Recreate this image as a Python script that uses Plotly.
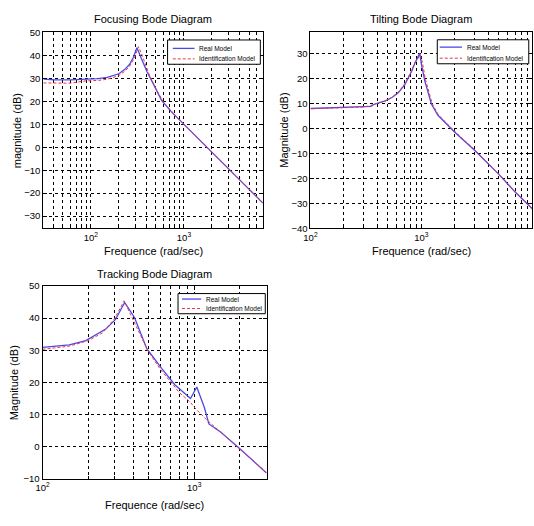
import numpy as np
import plotly.graph_objects as go

# ---------------- data ----------------
# Focusing
foc_real_x = [31, 40, 60, 88, 120, 150, 200, 230, 260, 285, 313, 350, 400, 450, 575, 735, 1000, 2000, 3000, 5000, 7050]
foc_real_y = [29.7, 29.4, 29.3, 29.6, 29.9, 30.4, 32.0, 33.8, 36.0, 39.0, 43.3, 38.5, 33.0, 29.0, 20.4, 15.4, 10.0, -2.2, -9.3, -18.2, -24.3]
foc_id_x = [31, 40, 60, 88, 120, 150, 200, 230, 260, 295, 325, 360, 420, 500, 600, 800, 1000, 2000, 3000, 5000, 7050]
foc_id_y = [28.0, 27.9, 27.9, 28.9, 29.1, 29.6, 31.2, 33.0, 35.2, 39.0, 43.8, 39.5, 32.0, 25.5, 19.8, 14.0, 10.0, -2.2, -9.3, -18.2, -24.3]

# Tilting
tilt_real_x = [100, 200, 300, 350, 380, 473, 547, 622, 711, 817, 874, 965, 1003, 1074, 1231, 1410, 2000, 3000, 5000, 7000, 10000]
tilt_real_y = [8.0, 8.4, 8.7, 8.9, 9.8, 11.1, 12.5, 14.4, 17.7, 22.9, 26.2, 30.1, 25.5, 19.0, 9.8, 5.3, -1.5, -8.6, -18.4, -25.5, -32.2]
tilt_id_x = [100, 200, 300, 350, 380, 473, 547, 622, 711, 817, 874, 980, 1020, 1090, 1250, 1420, 2000, 3000, 5000, 7000, 10000]
tilt_id_y = [7.9, 8.3, 8.6, 9.2, 9.8, 11.0, 12.6, 14.6, 18.0, 23.2, 26.4, 29.5, 26.5, 19.5, 10.0, 5.5, -1.2, -8.4, -18.2, -25.4, -32.2]

# Tracking
trk_real_x = [100, 150, 193, 261, 303, 348, 404, 487, 610, 745, 946, 1040, 1167, 1250, 1500, 2000, 3000]
trk_real_y = [30.9, 31.7, 33.0, 36.6, 39.6, 44.9, 40.2, 30.5, 24.4, 19.3, 15.0, 18.6, 12.2, 7.1, 4.5, -0.6, -8.2]
trk_id_x = [100, 150, 200, 250, 300, 345, 400, 500, 600, 700, 800, 946, 1005, 1200, 1500, 2000, 3000]
trk_id_y = [30.3, 31.3, 33.0, 35.5, 40.0, 45.4, 39.0, 29.5, 24.0, 20.0, 16.8, 13.8, 12.2, 8.5, 4.5, -0.5, -8.0]

foc_yticks = [-30, -20, -10, 0, 10, 20, 30, 40, 50]
tilt_yticks = [-40, -30, -20, -10, 0, 10, 20, 30]
trk_yticks = [-10, 0, 10, 20, 30, 40, 50]

series_names = ["Real Model", "Identification Model"]
titles = ["Focusing Bode Diagram", "Tilting Bode Diagram", "Tracking Bode Diagram"]
ylabels = ["magnitude (dB)", "Magnitude (dB)", "Magnitude (dB)"]
xlabel = "Frequence (rad/sec)"

W, H = 534, 526
FONT = "Liberation Sans, Arial, sans-serif"
BLUE = "#4a4ae6"
RED = "#ee3348"


def px_x(p):
    return p / W


def px_y(p):
    return 1 - p / H


def log_ticks(lo, hi):
    major, major_txt, minor = [], [], []
    for d in range(1, 5):
        for m in range(1, 10):
            v = m * 10 ** d
            if lo * 0.999 <= v <= hi * 1.001:
                if m == 1:
                    major.append(v)
                    major_txt.append(f"10<sup>{d}</sup>")
                else:
                    minor.append(v)
    return major, major_txt, minor


fig = go.Figure()

panels = [
    dict(rx=foc_real_x, ry=foc_real_y, ix=foc_id_x, iy=foc_id_y, xr=(30.8, 7050), yr=(-35.3, 50),
         yticks=foc_yticks, dom_x=(36.7, 259.3), dom_y=(27, 227),
         title_y=13.5, xlab_y=250, ylab_x=10,
         leg=dict(box=(162.7, 34.7, 256.7, 59.5), l1=(168, 190, 43.3), l2=(168, 190, 54), tx=192.3)),
    dict(rx=tilt_real_x, ry=tilt_real_y, ix=tilt_id_x, iy=tilt_id_y, xr=(100, 10000), yr=(-40, 38.5),
         yticks=tilt_yticks, dom_x=(307.5, 532.3), dom_y=(27, 227),
         title_y=13.5, xlab_y=250, ylab_x=281,
         leg=dict(box=(436, 34.5, 528.7, 59), l1=(438.5, 461, 42), l2=(438.5, 461, 53.3), tx=464.3)),
    dict(rx=trk_real_x, ry=trk_real_y, ix=trk_id_x, iy=trk_id_y, xr=(100, 3000), yr=(-10, 50),
         yticks=trk_yticks, dom_x=(36, 263), dom_y=(286, 483),
         title_y=274, xlab_y=510, ylab_x=8,
         leg=dict(box=(173.3, 293.7, 261.7, 314.3), l1=(177.3, 196.7, 299.3), l2=(177.3, 196.7, 309), tx=199.3)),
]

annotations = []
shapes = []
for i, p in enumerate(panels):
    n = i + 1
    xa = "x" if n == 1 else f"x{n}"
    ya = "y" if n == 1 else f"y{n}"
    fig.add_trace(go.Scatter(x=p["rx"], y=p["ry"], mode="lines", name=series_names[0],
                             line=dict(color=BLUE, width=1.3), xaxis=xa, yaxis=ya, showlegend=False))
    fig.add_trace(go.Scatter(x=p["ix"], y=p["iy"], mode="lines", name=series_names[1],
                             line=dict(color=RED, width=1, dash="3px,2px"), xaxis=xa, yaxis=ya, showlegend=False))
    major, major_txt, minor = log_ticks(*p["xr"])
    grid = dict(showgrid=True, gridcolor="black", gridwidth=0.6, griddash="3px,3px")
    axis_common = dict(showline=True, linecolor="black", linewidth=1, mirror="allticks",
                       ticks="inside", ticklen=4, tickcolor="black", zeroline=False,
                       tickfont=dict(family=FONT, size=9.5, color="black"), **grid)
    xkey = "xaxis" if n == 1 else f"xaxis{n}"
    ykey = "yaxis" if n == 1 else f"yaxis{n}"
    fig.update_layout({
        xkey: dict(axis_common, type="log", range=[np.log10(p["xr"][0]), np.log10(p["xr"][1])],
                   tickmode="array", tickvals=major, ticktext=major_txt, anchor=ya,
                   minor=dict(tickmode="array", tickvals=minor, ticks="inside", ticklen=3,
                              tickcolor="black", **grid),
                   domain=[px_x(p["dom_x"][0]), px_x(p["dom_x"][1])]),
        ykey: dict(axis_common, range=list(p["yr"]), tickmode="array", tickvals=p["yticks"],
                   anchor=xa, domain=[px_y(p["dom_y"][1]), px_y(p["dom_y"][0])]),
    })
    cx = (p["dom_x"][0] + p["dom_x"][1]) / 2
    annotations.append(dict(text=titles[i], x=px_x(cx), y=px_y(p["title_y"]), xref="paper", yref="paper",
                            xanchor="center", yanchor="middle", showarrow=False,
                            font=dict(family=FONT, size=11, color="black")))
    annotations.append(dict(text=xlabel, x=px_x(cx), y=px_y(p["xlab_y"]), xref="paper", yref="paper",
                            xanchor="center", yanchor="middle", showarrow=False,
                            font=dict(family=FONT, size=11, color="black")))
    cy = (p["dom_y"][0] + p["dom_y"][1]) / 2
    annotations.append(dict(text=ylabels[i], x=px_x(p["ylab_x"]), y=px_y(cy), xref="paper", yref="paper",
                            xanchor="center", yanchor="middle", showarrow=False, textangle=-90,
                            font=dict(family=FONT, size=11, color="black")))
    # legend drawn as a framed box
    lg = p["leg"]
    x0, y0, x1, y1 = lg["box"]
    shapes.append(dict(type="rect", xref="paper", yref="paper", x0=px_x(x0), x1=px_x(x1),
                       y0=px_y(y1), y1=px_y(y0), line=dict(color="black", width=1),
                       fillcolor="white", layer="above"))
    for (a, b, yy), col, dash in [(lg["l1"], BLUE, "solid"), (lg["l2"], RED, "3px,2px")]:
        shapes.append(dict(type="line", xref="paper", yref="paper", x0=px_x(a), x1=px_x(b),
                           y0=px_y(yy), y1=px_y(yy),
                           line=dict(color=col, width=1.3 if dash == "solid" else 1, dash=dash),
                           layer="above"))
    for name, (a, b, yy) in zip(series_names, [lg["l1"], lg["l2"]]):
        annotations.append(dict(text=name, x=px_x(lg["tx"]), y=px_y(yy), xref="paper", yref="paper",
                                xanchor="left", yanchor="middle", showarrow=False,
                                font=dict(family=FONT, size=6.5, color="black")))

fig.update_layout(width=W, height=H, margin=dict(l=0, r=0, t=0, b=0),
                  paper_bgcolor="white", plot_bgcolor="white",
                  annotations=annotations, shapes=shapes, showlegend=False)

fig.write_html("out.html")
